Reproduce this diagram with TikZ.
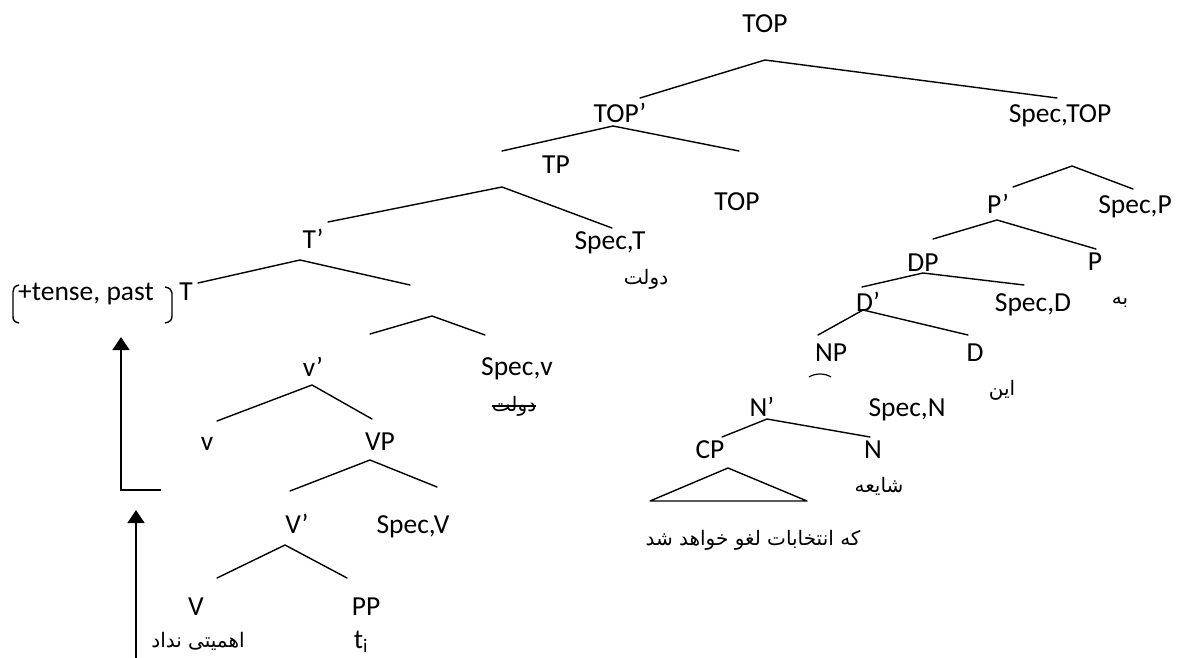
\documentclass[tikz,border=0pt]{standalone}
\usepackage{fontspec}
\setmainfont{Carlito}
\newfontfamily\arabicfont[Script=Arabic]{DejaVu Sans}
\TeXXeTstate=1
\usetikzlibrary{arrows.meta}

\tikzset{
  lbl/.style={font=\fontsize{27.5}{30}\selectfont, inner sep=0pt, anchor=base},
  fa/.style={font=\arabicfont\fontsize{20}{24}\selectfont, inner sep=0pt, anchor=center},
  branch/.style={line width=1.4pt, line join=round, line cap=round},
  movearrow/.style={line width=1.4pt, -{Triangle[width=17pt,length=13pt]}},
  bracket/.style={line width=1.4pt}
}

\begin{document}
\begin{tikzpicture}[x=1pt, y=-1pt]
\useasboundingbox (0,0) rectangle (1181,658);

% ---------- category labels ----------
\node[lbl] (top)     at (765,33)  {TOP};
\node[lbl] (topbar)  at (620,123) {TOP’};
\node[lbl] (spectop) at (1060,123){Spec,TOP};
\node[lbl] (tp)      at (556,174) {TP};
\node[lbl] (top2)    at (737,210) {TOP};
\node[lbl] (tbar)    at (313,248) {T’};
\node[lbl] (spect)   at (610,249) {Spec,T};
\node[lbl] (feat)    at (86,300)  {+tense, past};
\node[lbl] (t)       at (186,300) {T};
\node[lbl] (vbar)    at (313,376) {v’};
\node[lbl] (specv)   at (517,375) {Spec,v};
\node[lbl] (lv)      at (207,450) {v};
\node[lbl] (vp)      at (380,450) {VP};
\node[lbl] (Vbar)    at (297,533) {V’};
\node[lbl] (specV)   at (413,533) {Spec,V};
\node[lbl] (V)       at (196,615) {V};
\node[lbl] (pp)      at (366,615) {PP};
\node[lbl] (trace)   at (361,648) {t\textsubscript{i}};

\node[lbl] (pbar)    at (998,213) {P’};
\node[lbl] (specp)   at (1135,213){Spec,P};
\node[lbl] (dp)      at (923,271) {DP};
\node[lbl] (p)       at (1095,270){P};
\node[lbl] (dbar)    at (868,311) {D’};
\node[lbl] (specd)   at (1033,311){Spec,D};
\node[lbl] (np)      at (831,361) {NP};
\node[lbl] (d)       at (975,361) {D};
\node[lbl] (nbar)    at (762,416) {N’};
\node[lbl] (specn)   at (907,416) {Spec,N};
\node[lbl] (cp)      at (710,458) {CP};
\node[lbl] (n)       at (873,458) {N};

% ---------- Persian words ----------
\node[fa] (dowlat)   at (646,279) {\beginR دولت\endR};
\node[fa] (dowlatx)  at (514,406) {\beginR دولت\endR};
\node[fa] (be)       at (1120,302){\beginR به\endR};
\node[fa] (in)       at (1002,390){\beginR این\endR};
\node[fa] (shaye)    at (879,486) {\beginR شایعه\endR};
\node[fa] (clause)   at (753,540) {\beginR که انتخابات لغو خواهد شد\endR};
\node[fa] (verb)     at (198,641) {\beginR اهمیتی نداد\endR};

% the copy of the subject left behind in Spec,v is struck out
\draw[line width=1.2pt] (dowlatx.west) -- (dowlatx.east);

% ---------- feature brackets ----------
\draw[bracket] (19,285) .. controls (14,286) and (13,289) .. (13,292) -- (13,316)
  .. controls (13,320) and (14,322) .. (19,323);
\draw[bracket] (165,287) .. controls (170,288) and (172,290) .. (172,293) -- (172,316)
  .. controls (172,320) and (170,322) .. (165,323);

% ---------- branch end points ----------
\coordinate (topL) at (640,98);   \coordinate (topA) at (765,60);   \coordinate (topR) at (1057,98);
\coordinate (tbL)  at (502,151);  \coordinate (tbA)  at (613,126);  \coordinate (tbR)  at (739,151);
\coordinate (tpL)  at (328,222);  \coordinate (tpA)  at (502,187);  \coordinate (tpR)  at (612,228);
\coordinate (t1L)  at (198,283);  \coordinate (t1A)  at (300,260);  \coordinate (t1R)  at (410,285);
\coordinate (vpL)  at (370,334);  \coordinate (vpA)  at (432,316);  \coordinate (vpR)  at (485,335);
\coordinate (v1L)  at (217,421);  \coordinate (v1A)  at (312,385);  \coordinate (v1R)  at (372,419);
\coordinate (v2L)  at (290,491);  \coordinate (v2A)  at (370,460);  \coordinate (v2R)  at (437,487);
\coordinate (v3L)  at (217,578);  \coordinate (v3A)  at (285,545);  \coordinate (v3R)  at (347,578);

\coordinate (ppL)  at (1013,187); \coordinate (ppA)  at (1072,166); \coordinate (ppR)  at (1133,189);
\coordinate (p1L)  at (933,239);  \coordinate (p1A)  at (997,220);  \coordinate (p1R)  at (1096,249);
\coordinate (dpL)  at (862,287);  \coordinate (dpA)  at (923,273);  \coordinate (dpR)  at (1024,285);
\coordinate (d1L)  at (818,335);  \coordinate (d1A)  at (863,310);  \coordinate (d1R)  at (968,335);
\coordinate (n1L)  at (722,437);  \coordinate (n1A)  at (767,419);  \coordinate (n1R)  at (870,437);
\coordinate (cpA)  at (728,468);  \coordinate (cpL)  at (650,501);  \coordinate (cpR)  at (807,501);

% ---------- branches ----------
\draw[branch] (topL) -- (topA) -- (topR);
\draw[branch] (tbL) -- (tbA) -- (tbR);
\draw[branch] (tpL) -- (tpA) -- (tpR);
\draw[branch] (t1L) -- (t1A) -- (t1R);
\draw[branch] (vpL) -- (vpA) -- (vpR);
\draw[branch] (v1L) -- (v1A) -- (v1R);
\draw[branch] (v2L) -- (v2A) -- (v2R);
\draw[branch] (v3L) -- (v3A) -- (v3R);
\draw[branch] (ppL) -- (ppA) -- (ppR);
\draw[branch] (p1L) -- (p1A) -- (p1R);
\draw[branch] (dpL) -- (dpA) -- (dpR);
\draw[branch] (d1L) -- (d1A) -- (d1R);
\draw[branch] (n1L) -- (n1A) -- (n1R);
\draw[branch] (cpL) -- (cpA) -- (cpR) -- cycle;

% small mark below NP
\draw[line width=1.2pt] (809,377) .. controls (815,373) and (825,373) .. (831,377);

% ---------- head movement arrows ----------
\coordinate (m1s) at (161,490);
\coordinate (m1c) at (121,490);
\coordinate (m1e) at (121,337);
\draw[movearrow] (m1s) -- (m1c) -- (m1e);

\coordinate (m2s) at (136,658);
\coordinate (m2e) at (136,510);
\draw[movearrow] (m2s) -- (m2e);
\end{tikzpicture}
\end{document}
